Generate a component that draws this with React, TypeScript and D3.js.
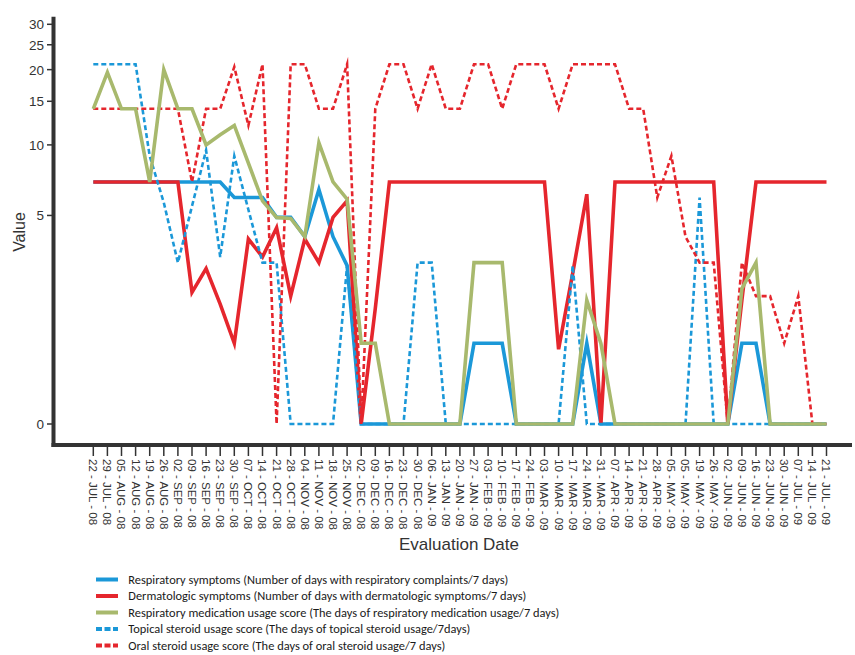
import React from "react";
import * as d3 from "d3";

const dates = [
  "22 - JUL - 08", "29 - JUL - 08", "05 - AUG - 08", "12 - AUG - 08", "19 - AUG - 08", "26 - AUG - 08",
  "02 - SEP - 08", "09 - SEP - 08", "16 - SEP - 08", "23 - SEP - 08", "30 - SEP - 08", "07 - OCT - 08",
  "14 - OCT - 08", "21 - OCT - 08", "28 - OCT - 08", "04 - NOV - 08", "11 - NOV - 08", "18 - NOV - 08",
  "25 - NOV - 08", "02 - DEC - 08", "09 - DEC - 08", "16 - DEC - 08", "23 - DEC - 08", "30 - DEC - 08",
  "06 - JAN - 09", "13 - JAN - 09", "20 - JAN - 09", "27 - JAN - 09", "03 - FEB - 09", "10 - FEB - 09",
  "17 - FEB - 09", "24 - FEB - 09", "03 - MAR - 09", "10 - MAR - 09", "17 - MAR - 09", "24 - MAR - 09",
  "31 - MAR - 09", "07 - APR - 09", "14 - APR - 09", "21 - APR - 09", "28 - APR - 09", "05 - MAY - 09",
  "05 - MAY - 09", "19 - MAY - 09", "26 - MAY - 09", "02 - JUN - 09", "09 - JUN - 09", "16 - JUN - 09",
  "23 - JUN - 09", "30 - JUN - 09", "07 - JUL - 09", "14 - JUL - 09", "21 - JUL - 09",
];

const respiratorySymptoms = [
  7, 7, 7, 7, 7, 7, 7, 7, 7, 7, 6, 6, 6, 4.9, 4.9, 4, 6.5, 4, 2.9, 0,
  0, 0, 0, 0, 0, 0, 0, 1, 1, 1, 0, 0, 0, 0, 0, 1, 0, 0, 0, 0,
  0, 0, 0, 0, 0, 0, 1, 1, 0, 0, 0, 0, 0,
];

const dermatologicSymptoms = [
  7, 7, 7, 7, 7, 7, 7, 2.1, 2.8, 1.8, 1, 3.9, 3.2, 4.4, 2, 3.9, 3, 4.9, 5.8, 0,
  1.7, 7, 7, 7, 7, 7, 7, 7, 7, 7, 7, 7, 7, 0.9, 2.65, 6.2, 0, 7, 7, 7,
  7, 7, 7, 7, 7, 0, 1.9, 7, 7, 7, 7, 7, 7,
];

const respiratoryMedication = [
  14, 19.5, 14, 14, 7, 20, 14, 14, 10, 11, 12, 8.4, 5.8, 4.9, 4.85, 4, 10.2, 7, 5.9, 1,
  1, 0, 0, 0, 0, 0, 0, 3, 3, 3, 0, 0, 0, 0, 0, 1.9, 1, 0, 0, 0,
  0, 0, 0, 0, 0, 0, 2.2, 3, 0, 0, 0, 0, 0,
];

const topicalSteroid = [
  21, 21, 21, 21, 9, 5.7, 3, 5.5, 9.5, 3.2, 9, 5.3, 3, 3, 0, 0, 0, 0, 2.9, 0,
  0, 0, 0, 3, 3, 0, 0, 0, 0, 0, 0, 0, 0, 0, 2.9, 0, 0, 0, 0, 0,
  0, 0, 0, 6, 0, 0, 0, 0, 0, 0, 0, 0, 0,
];

const oralSteroid = [
  14, 14, 14, 14, 14, 14, 14, 7, 14, 14, 20.5, 12, 21, 0, 21, 21, 14, 14, 21, 0,
  14, 21, 21, 14, 21, 14, 14, 21, 21, 14, 21, 21, 21, 14, 21, 21, 21, 21, 14, 14,
  6, 9, 4, 3, 3, 0, 3, 2, 2, 1, 2, 0, 0,
];

const yTicks = [0, 5, 10, 15, 20, 25, 30];

const legendLabels = [
  "Respiratory symptoms (Number of days with respiratory complaints/7 days)",
  "Dermatologic symptoms (Number of days with dermatologic symptoms/7 days)",
  "Respiratory medication usage score (The days of respiratory medication usage/7 days)",
  "Topical steroid usage score (The days of topical steroid usage/7days)",
  "Oral steroid usage score (The days of oral steroid usage/7 days)",
];

const BLUE = "#1b98d8";
const RED = "#e5262d";
const GREEN = "#a8b96d";

const seriesStyles = [
  { data: respiratorySymptoms, color: BLUE, width: 3.6, dash: null as string | null },
  { data: dermatologicSymptoms, color: RED, width: 3.6, dash: null },
  { data: topicalSteroid, color: BLUE, width: 2.6, dash: "5,3" },
  { data: oralSteroid, color: RED, width: 2.6, dash: "5,3" },
  { data: respiratoryMedication, color: GREEN, width: 3.6, dash: null },
];

const legendStyles = [
  { color: BLUE, dash: null as string | null, textWidth: 380 },
  { color: RED, dash: null, textWidth: 398 },
  { color: GREEN, dash: null, textWidth: 431 },
  { color: BLUE, dash: "6,2.5", textWidth: 342 },
  { color: RED, dash: "6,2.5", textWidth: 317 },
];

export default function App() {
  const W = 855;
  const H = 655;
  const axisColor = "#333";
  const font = "'Liberation Sans', Arial, Helvetica, sans-serif";

  const x = d3.scaleLinear().domain([0, dates.length - 1]).range([93.3, 826.5]);
  const y = d3.scaleSymlog().constant(1).domain([0, 30]).range([424, 24.3]);

  const line = d3
    .line<number>()
    .x((_, i) => x(i))
    .y((d) => y(d));

  const axisY = 445;
  const axisX = 53.5;

  const legendX0 = 96;
  const legendX1 = 118;
  const legendTextX = 128.3;
  const legendY0 = 579.5;
  const legendDy = 16.5;

  return (
    <svg
      width={W}
      height={H}
      viewBox={`0 0 ${W} ${H}`}
      style={{ position: "absolute", left: 0, top: 0, background: "#fff" }}
    >
      <rect x={0} y={0} width={W} height={H} fill="#fff" />

      {seriesStyles.map((s, k) => (
        <path
          key={k}
          d={line(s.data) || ""}
          fill="none"
          stroke={s.color}
          strokeWidth={s.width}
          strokeDasharray={s.dash || undefined}
          strokeLinejoin="miter"
          strokeMiterlimit={6}
        />
      ))}

      <line x1={axisX} x2={axisX} y1={16.7} y2={axisY + 2} stroke={axisColor} strokeWidth={4} />
      {yTicks.map((t) => (
        <g key={t} transform={`translate(0,${y(t)})`}>
          <line x1={47} x2={axisX} y1={0} y2={0} stroke={axisColor} strokeWidth={1.5} />
          <text
            x={44}
            y={0}
            dy="0.36em"
            textAnchor="end"
            fontFamily={font}
            fontSize={13.5}
            fill={axisColor}
          >
            {t}
          </text>
        </g>
      ))}
      <text
        transform={`translate(19,232) rotate(-90)`}
        textAnchor="middle"
        dy="0.36em"
        fontFamily={font}
        fontSize={16}
        fill={axisColor}
      >
        Value
      </text>

      <line x1={axisX - 2} x2={852} y1={axisY} y2={axisY} stroke={axisColor} strokeWidth={4} />
      {dates.map((d, i) => (
        <g key={i} transform={`translate(${x(i)},0)`}>
          <line x1={0} x2={0} y1={axisY + 2} y2={axisY + 11} stroke={axisColor} strokeWidth={1.5} />
          <text
            transform={`translate(0,${axisY + 14}) rotate(90)`}
            dy="0.35em"
            textAnchor="start"
            fontFamily={font}
            fontSize={11.5}
            fill={axisColor}
          >
            {d}
          </text>
        </g>
      ))}
      <text x={459} y={550} textAnchor="middle" fontFamily={font} fontSize={17} fill={axisColor}>
        Evaluation Date
      </text>

      {legendLabels.map((label, k) => {
        const ly = legendY0 + k * legendDy;
        const st = legendStyles[k];
        return (
          <g key={k}>
            <line
              x1={legendX0}
              x2={legendX1}
              y1={ly}
              y2={ly}
              stroke={st.color}
              strokeWidth={4}
              strokeDasharray={st.dash || undefined}
            />
            <text
              x={legendTextX}
              y={ly + 4.4}
              fontFamily="Carlito, Lato, 'Open Sans', sans-serif"
              fontSize={13}
              fill="#1a1a1a"
              textLength={st.textWidth}
              lengthAdjust="spacingAndGlyphs"
            >
              {label}
            </text>
          </g>
        );
      })}
    </svg>
  );
}
